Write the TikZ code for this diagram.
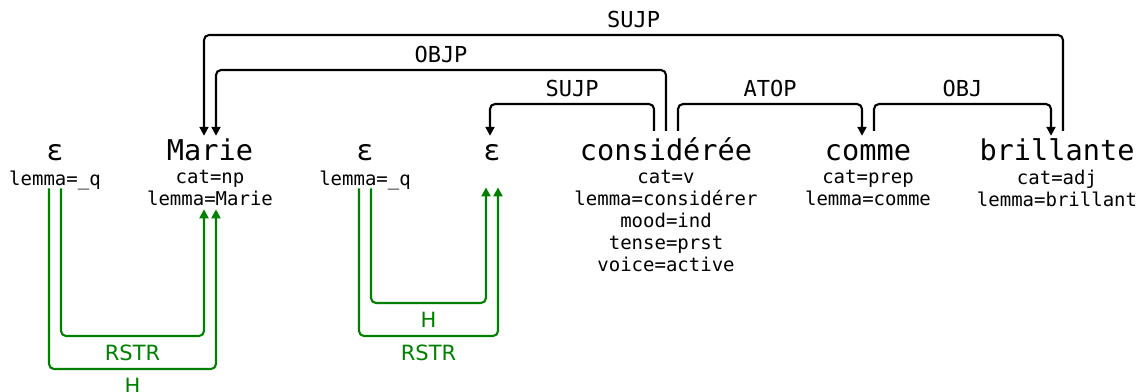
\documentclass[tikz,border=0pt]{standalone}
\usepackage{fontspec}
\usetikzlibrary{positioning,arrows.meta,calc}
\newfontfamily\depmono{DejaVu Sans Mono}
\newfontfamily\depsans{DejaVu Sans}
\tikzset{
  word/.style={anchor=base, inner sep=0pt, text height=20pt, text depth=6pt, font=\depmono\fontsize{28.6}{30}\selectfont},
  feat/.style={align=center, inner sep=0pt, font=\depmono\fontsize{19}{22}\selectfont, execute at begin node=\strut, execute at end node=\strut},
  dep/.style={-{Triangle[length=9pt,width=9pt]}, line width=2.1pt, rounded corners=5pt},
  sem/.style={dep, green!50!black},
  lab/.style={above, inner sep=6pt, text=black, font=\depmono\fontsize{22}{24}\selectfont},
  slab/.style={below, inner sep=8pt, text=green!50!black, font=\depsans\fontsize{21}{24}\selectfont},
}
\begin{document}
\begin{tikzpicture}[x=1pt,y=-1pt]
\useasboundingbox (0,0) rectangle (1139,391);
% arc levels
\coordinate (lv1) at (0,35);
\coordinate (lv2) at (0,70);
\coordinate (lv3) at (0,104);
\coordinate (g1) at (0,303);
\coordinate (g2) at (0,336);
\coordinate (g3) at (0,369);
% tokens
\node[word] (w1) at (55,160) {ε};
\node[word] (w2) at (210,160) {Marie};
\node[word] (w3) at (365,160) {ε};
\node[word] (w4) at (492,160) {ε};
\node[word] (w5) at (666,160) {considérée};
\node[word] (w6) at (868,160) {comme};
\node[word] (w7) at (1057,160) {brillante};
\node[feat, below=10pt of w1.base] (f1) {lemma=\_q};
\node[feat, below=10pt of w2.base] (f2) {cat=np\\lemma=Marie};
\node[feat, below=10pt of w3.base] (f3) {lemma=\_q};
\node[feat, below=10pt of w4.base] (f4) {};
\node[feat, below=10pt of w5.base] (f5) {cat=v\\lemma=considérer\\mood=ind\\tense=prst\\voice=active};
\node[feat, below=10pt of w6.base] (f6) {cat=prep\\lemma=comme};
\node[feat, below=10pt of w7.base] (f7) {cat=adj\\lemma=brillant};
% surface dependencies
\draw[dep] ([xshift=6pt,yshift=9pt]w7.north) |- node[lab,pos=.75] {SUJP} ([xshift=-6pt]w2.north |- lv1) -- ([xshift=-6pt,yshift=4pt]w2.north);
\draw[dep] ([yshift=9pt]w5.north) |- node[lab,pos=.75] {OBJP} ([xshift=6pt]w2.north |- lv2) -- ([xshift=6pt,yshift=4pt]w2.north);
\draw[dep] ([xshift=-12pt,yshift=9pt]w5.north) |- node[lab,pos=.75] {SUJP} ([xshift=-2pt]w4.north |- lv3) -- ([xshift=-2pt,yshift=4pt]w4.north);
\draw[dep] ([xshift=12pt,yshift=9pt]w5.north) |- node[lab,pos=.75] {ATOP} ([xshift=-6pt]w6.north |- lv3) -- ([xshift=-6pt,yshift=4pt]w6.north);
\draw[dep] ([xshift=6pt,yshift=9pt]w6.north) |- node[lab,pos=.75] {OBJ} ([xshift=-6pt]w7.north |- lv3) -- ([xshift=-6pt,yshift=4pt]w7.north);
% semantic links
\draw[sem] ([xshift=6pt,yshift=4pt]f1.south) |- node[slab,pos=.75] {RSTR} ([xshift=-6pt]f2.south |- g2) -- ([xshift=-6pt,yshift=3pt]f2.south);
\draw[sem] ([xshift=-6pt,yshift=4pt]f1.south) |- node[slab,pos=.75] {H} ([xshift=6pt]f2.south |- g3) -- ([xshift=6pt,yshift=3pt]f2.south);
\draw[sem] ([xshift=6pt,yshift=4pt]f3.south) |- node[slab,pos=.75] {H} ([xshift=-6pt]f4.south |- g1) -- ([xshift=-6pt,yshift=5pt]f4.south);
\draw[sem] ([xshift=-6pt,yshift=4pt]f3.south) |- node[slab,pos=.75] {RSTR} ([xshift=6pt]f4.south |- g2) -- ([xshift=6pt,yshift=5pt]f4.south);
\end{tikzpicture}
\end{document}
